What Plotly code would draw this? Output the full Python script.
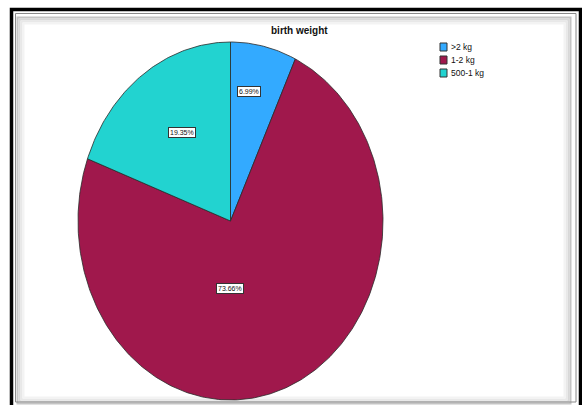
import numpy as np
import plotly.graph_objects as go

# ---- data ----
title_text = "birth weight"
categories = [">2 kg", "1-2 kg", "500-1 kg"]
percentages = [6.99, 73.66, 19.35]
colors = ["#33aaff", "#a0184c", "#22d3d0"]
label_texts = [f"{p:.2f}%" for p in percentages]

# label anchor positions (in pie units, radius = 1)
label_pos = [(0.121, 0.726), (-0.003, -0.377), (-0.318, 0.497)]

W, H = 582, 405
# pie geometry in pixels
cx, cy, rx, ry = 230.5, 221.0, 152.5, 179.0
x_left = -(cx) / rx
x_right = (W - cx) / rx
y_top = cy / ry
y_bottom = -(H - cy) / ry

fig = go.Figure()

total = sum(percentages)
start = 0.0
for cat, val, col in zip(categories, percentages, colors):
    a0 = start / total * 2 * np.pi
    a1 = (start + val) / total * 2 * np.pi
    n = max(4, int(400 * val / total))
    t = np.linspace(a0, a1, n)
    xs = np.concatenate([[0], np.sin(t), [0]])
    ys = np.concatenate([[0], np.cos(t), [0]])
    fig.add_trace(go.Scatter(
        x=xs, y=ys, mode="lines", fill="toself", fillcolor=col,
        line=dict(color="#2a2a2a", width=0.8), name=cat,
        hoverinfo="name", showlegend=False,
    ))
    start += val

annotations = []
for txt, (lx, ly) in zip(label_texts, label_pos):
    annotations.append(dict(
        x=lx, y=ly, xref="x", yref="y", text=txt, showarrow=False,
        font=dict(family="Liberation Sans, Arial", size=7, color="#111"),
        bgcolor="white", bordercolor="#333", borderwidth=1, borderpad=1,
    ))

# title
annotations.append(dict(
    x=299 / W, y=1 - 31 / H, xref="paper", yref="paper", text=f"<b>{title_text}</b>",
    showarrow=False, font=dict(family="Liberation Sans, Arial", size=10, color="#111"),
    xanchor="center", yanchor="middle",
))

shapes = []
def px(x):
    return x / W
def py(y):
    return 1 - y / H

# legend
leg_y = [47, 60, 73]
for cat, col, yy in zip(categories, colors, leg_y):
    shapes.append(dict(type="rect", xref="paper", yref="paper",
                       x0=px(440), x1=px(447), y0=py(yy - 4), y1=py(yy + 4),
                       fillcolor=col, line=dict(color="#333", width=1)))
    annotations.append(dict(
        x=px(448.5), y=py(yy), xref="paper", yref="paper", text=cat, showarrow=False,
        xanchor="left", yanchor="middle",
        font=dict(family="Liberation Sans, Arial", size=8.5, color="#111"),
    ))

# frame with inner shadow
shade = [(17.5, "#c4c4c4"), (19.5, "#d8d8d8"), (21.5, "#e8e8e8"), (23.5, "#f3f3f3")]
for off, c in shade:
    shapes.append(dict(type="rect", xref="paper", yref="paper",
                       x0=px(off), x1=px(W - 5 - (off - 11)), y0=py(off), y1=py(H + 1 - (off - 15)),
                       line=dict(color=c, width=2), layer="below"))
shapes.append(dict(type="rect", xref="paper", yref="paper",
                   x0=px(15.5), x1=px(576), y0=py(13.5), y1=py(402),
                   line=dict(color="#8a8a8a", width=1)))
shapes.append(dict(type="rect", xref="paper", yref="paper",
                   x0=px(11.5), x1=px(580.5), y0=py(9.5), y1=py(407),
                   line=dict(color="#000", width=3.5)))

fig.update_layout(
    width=W, height=H,
    margin=dict(l=0, r=0, t=0, b=0),
    paper_bgcolor="white", plot_bgcolor="white",
    xaxis=dict(range=[x_left, x_right], visible=False, fixedrange=True),
    yaxis=dict(range=[y_bottom, y_top], visible=False, fixedrange=True),
    showlegend=False,
    annotations=annotations,
    shapes=shapes,
)

fig.write_html("out.html")
